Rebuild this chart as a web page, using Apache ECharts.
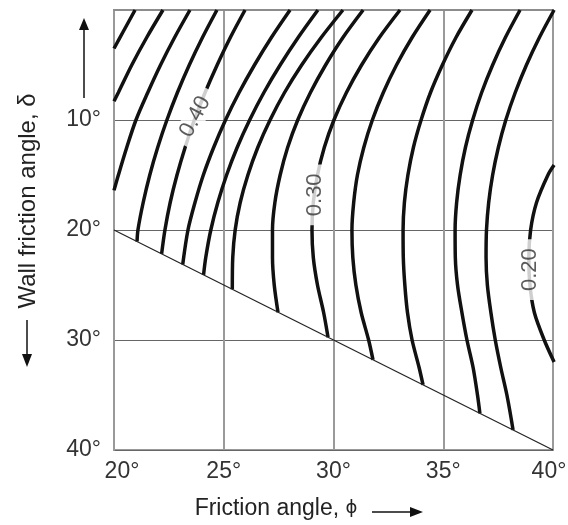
<!DOCTYPE html>
<html>
<head>
<meta charset="utf-8">
<script src="https://cdn.jsdelivr.net/npm/echarts@6/dist/echarts.min.js"></script>
<style>
html,body{margin:0;padding:0;background:#fff;}
#chart{width:568px;height:525px;}
</style>
</head>
<body>
<div id="chart"></div>
<script>
// Axis ticks
const phiTicks = [20, 25, 30, 35, 40];
const deltaTicks = [0, 10, 20, 30, 40];

// Contour curves [friction angle phi, wall friction angle delta]
const k048 = [[20.96,0],[20.41,2],[20,3.5]];
const k046 = [[22.23,0],[21.49,2.5],[20.81,5],[20.2,7.5],[20,8.3]];
const k044 = [[23.46,0],[22.76,2.5],[22.12,5],[21.54,7.5],[21.0,10],[20.58,12.5],[20.2,15],[20,16.4]];
const k042 = [[24.69,0],[24.03,2.5],[23.43,5],[22.89,7.5],[22.41,10],[21.99,12.5],[21.63,15],[21.33,17.5],[21.09,20],[21.05,21.05]];
const k040 = [[25.97,0],[25.3,2.5],[24.7,5],[24.15,7.5],[23.66,10],[23.24,12.5],[22.87,15],[22.56,17.5],[22.32,20],[22.17,22.17]];
const k038 = [[28.02,0],[27.17,2.5],[26.4,5],[25.7,7.5],[25.08,10],[24.54,12.5],[24.07,15],[23.69,17.5],[23.37,20],[23.13,23.13]];
const k036 = [[29.29,0],[28.39,2.5],[27.57,5],[26.83,7.5],[26.18,10],[25.61,12.5],[25.13,15],[24.73,17.5],[24.41,20],[24.18,22.5],[24.08,24.08]];
const k034 = [[30.43,0],[29.44,2.5],[28.55,5],[27.77,7.5],[27.11,10],[26.55,12.5],[26.1,15],[25.75,17.5],[25.52,20],[25.41,22.5],[25.39,25.39]];
const k032 = [[31.35,0],[30.43,2.5],[29.64,5],[28.95,7.5],[28.37,10],[27.91,12.5],[27.57,15],[27.33,17.5],[27.22,20],[27.22,22.5],[27.3,25],[27.47,27.47]];
const k030 = [[33.03,0],[32.09,2.5],[31.28,5],[30.59,7.5],[30.02,10],[29.58,12.5],[29.27,15],[29.08,17.5],[29.02,20],[29.08,22.5],[29.27,25],[29.55,27.5],[29.75,29.75]];
const k028 = [[34.4,0],[33.58,2.5],[32.87,5],[32.27,7.5],[31.77,10],[31.38,12.5],[31.09,15],[30.92,17.5],[30.84,20],[30.88,22.5],[31.02,25],[31.26,27.5],[31.6,30],[31.8,31.8]];
const k026 = [[36.31,0],[35.58,2.5],[34.96,5],[34.42,7.5],[33.99,10],[33.64,12.5],[33.39,15],[33.23,17.5],[33.17,20],[33.18,22.5],[33.25,25],[33.37,27.5],[33.58,30],[33.9,32.5],[34.08,34.08]];
const k024 = [[38.5,0],[37.83,2.5],[37.25,5],[36.75,7.5],[36.34,10],[36.01,12.5],[35.77,15],[35.61,17.5],[35.54,20],[35.55,22.5],[35.65,25],[35.85,27.5],[36.08,30],[36.36,32.5],[36.56,35],[36.67,36.67]];
const k022 = [[40.05,0],[39.38,2.5],[38.79,5],[38.28,7.5],[37.85,10],[37.51,12.5],[37.25,15],[37.07,17.5],[36.97,20],[36.95,22.5],[37.01,25],[37.17,27.5],[37.37,30],[37.62,32.5],[37.9,35],[38.18,38.18]];
const k020 = [[40.05,14.1],[39.77,15],[39.25,17.5],[38.98,20],[38.9,22.5],[38.95,25],[39.15,27.5],[39.6,30],[40.05,32]];

// Limit line delta = phi
const limitLine = [[20,20],[40,40]];

// Contour labels
const labelTexts = ['0.40','0.30','0.20'];
const labelPos = [[23.7,9.7],[29.16,16.8],[38.93,23.6]];
const labelRot = [62, 90, 90];

const curves = [k048,k046,k044,k042,k040,k038,k036,k034,k032,k030,k028,k026,k024,k022,k020];

const FONT = 'Liberation Sans, Arial, sans-serif';
const chart = echarts.init(document.getElementById('chart'), null, {renderer:'canvas'});

const series = curves.map(c => ({
  type:'line', data:c, smooth:0.3, symbol:'none', clip:true, z:3,
  lineStyle:{color:'#111', width:3.5}
}));
series.push({
  type:'line', data:limitLine, symbol:'none', z:3,
  lineStyle:{color:'#222', width:1.2}
});
series.push({
  type:'scatter', symbolSize:0, z:10,
  data: labelPos.map((p,i)=>({value:p, label:{rotate:labelRot[i]}})),
  label:{
    show:true, position:'inside',
    formatter: p => labelTexts[p.dataIndex],
    fontFamily:FONT, fontSize:22, color:'#333',
    backgroundColor:'#fff', padding:[0,9,0,9]
  }
});

chart.setOption({
  animation:false,
  backgroundColor:'#fff',
  grid:{left:114, right:15, top:10, bottom:75, containLabel:false, outerBoundsMode:'none',
        show:true, borderColor:'#999', borderWidth:2, backgroundColor:'transparent'},
  xAxis:{
    type:'value', min:phiTicks[0], max:phiTicks[phiTicks.length-1], interval:5,
    axisLine:{show:true, lineStyle:{color:'#8c8c8c', width:2}},
    axisTick:{show:false},
    splitLine:{show:true, lineStyle:{color:'#9a9a9a', width:2}},
    axisLabel:{fontFamily:FONT, fontSize:23, color:'#333', margin:10,
      formatter: v => v === phiTicks[0] ? '{first|' + v + '°}' : (v === phiTicks[phiTicks.length-1] ? '{last|' + v + '°}' : v + '°'),
      rich:{
        first:{fontFamily:FONT, fontSize:23, color:'#333', padding:[0,0,0,16]},
        last:{fontFamily:FONT, fontSize:23, color:'#333', padding:[0,8,0,0]}
      }},
    name:'Friction angle, {p|ϕ}', nameLocation:'middle', nameGap:47,
    nameTextStyle:{fontFamily:FONT, fontSize:23, color:'#222', padding:[0,115,0,0],
      rich:{p:{fontFamily:'DejaVu Sans', fontSize:18, color:'#222'}}}
  },
  yAxis:{
    type:'value', inverse:true, min:deltaTicks[0], max:deltaTicks[deltaTicks.length-1], interval:10,
    axisLine:{show:true, lineStyle:{color:'#999', width:2}},
    axisTick:{show:false},
    splitLine:{show:true, lineStyle:{color:'#666', width:1}},
    axisLabel:{fontFamily:FONT, fontSize:23, color:'#333', margin:13, formatter: v => v === 0 ? '' : v + '°'},
    name:'Wall friction angle, δ', nameLocation:'middle', nameGap:74, nameRotate:90,
    nameTextStyle:{fontFamily:FONT, fontSize:24, color:'#222', padding:[0,0,0,58]}
  },
  graphic:[
    // up arrow beside y axis
    {type:'line', shape:{x1:84, y1:98, x2:84, y2:28}, style:{stroke:'#111', lineWidth:1.5}},
    {type:'polygon', shape:{points:[[84,18],[79,30],[89,30]]}, style:{fill:'#111'}},
    // down arrow under y-axis name
    {type:'line', shape:{x1:27, y1:320, x2:27, y2:356}, style:{stroke:'#111', lineWidth:1.5}},
    {type:'polygon', shape:{points:[[27,367],[22,354],[32,354]]}, style:{fill:'#111'}},
    // right arrow after x-axis name
    {type:'line', shape:{x1:372, y1:512, x2:412, y2:512}, style:{stroke:'#111', lineWidth:1.5}},
    {type:'polygon', shape:{points:[[423,512],[410,507],[410,517]]}, style:{fill:'#111'}}
  ],
  series: series
});
</script>
</body>
</html>
